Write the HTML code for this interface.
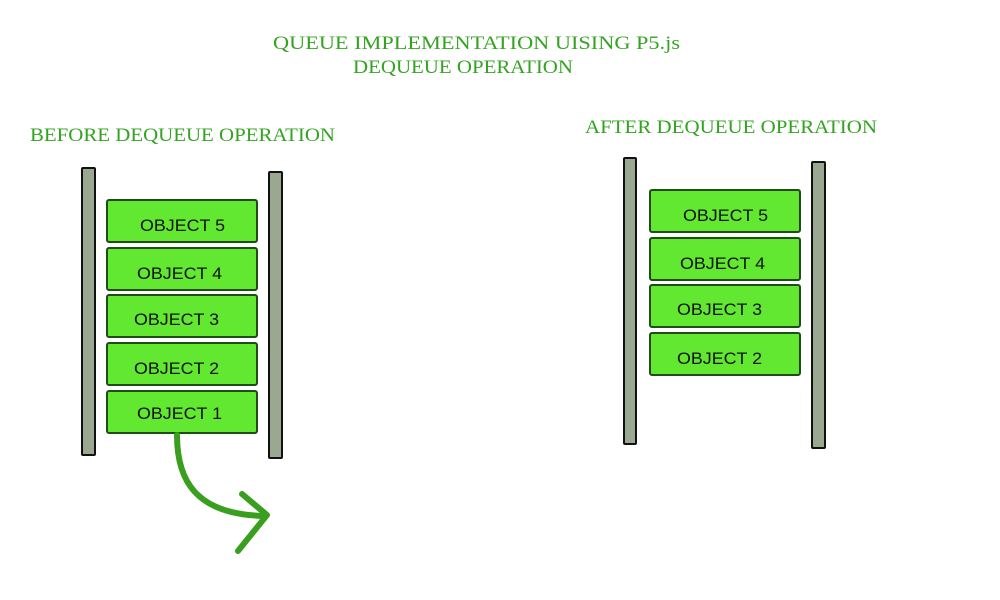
<!DOCTYPE html>
<html><head><style>
body{margin:0;background:#fff;}
svg{display:block}
</style></head><body>
<svg width="1000" height="600" xmlns="http://www.w3.org/2000/svg">
<g font-family="Liberation Serif, serif" fill="#33a321" font-size="19">
<text x="273" y="49" textLength="407" lengthAdjust="spacingAndGlyphs">QUEUE IMPLEMENTATION UISING P5.js</text>
<text x="353" y="73" textLength="220" lengthAdjust="spacingAndGlyphs">DEQUEUE OPERATION</text>
<text x="30" y="141" textLength="305" lengthAdjust="spacingAndGlyphs">BEFORE DEQUEUE OPERATION</text>
<text x="585" y="133" textLength="292" lengthAdjust="spacingAndGlyphs">AFTER DEQUEUE OPERATION</text>
</g>
<g fill="#9aa892" stroke="#111" stroke-width="2">
<rect x="82" y="168" width="13" height="287" rx="1"/>
<rect x="269" y="172" width="13" height="286" rx="1"/>
<rect x="624" y="158" width="12" height="286" rx="1"/>
<rect x="812" y="162" width="13" height="286" rx="1"/>
</g>
<g fill="#62e830" stroke="#1e4d1a" stroke-width="2">
<rect x="107" y="200" width="150" height="42" rx="2"/>
<rect x="107" y="248" width="150" height="42" rx="2"/>
<rect x="107" y="295" width="150" height="42" rx="2"/>
<rect x="107" y="343" width="150" height="42" rx="2"/>
<rect x="107" y="391" width="150" height="42" rx="2"/>
<rect x="650" y="190" width="150" height="42" rx="2"/>
<rect x="650" y="238" width="150" height="42" rx="2"/>
<rect x="650" y="285" width="150" height="42" rx="2"/>
<rect x="650" y="333" width="150" height="42" rx="2"/>
</g>
<g font-family="Liberation Sans, sans-serif" font-size="17" fill="#111">
<text x="140" y="231" textLength="85" lengthAdjust="spacingAndGlyphs">OBJECT 5</text>
<text x="137" y="279" textLength="85" lengthAdjust="spacingAndGlyphs">OBJECT 4</text>
<text x="134" y="325" textLength="85" lengthAdjust="spacingAndGlyphs">OBJECT 3</text>
<text x="134" y="374" textLength="85" lengthAdjust="spacingAndGlyphs">OBJECT 2</text>
<text x="137" y="419" textLength="85" lengthAdjust="spacingAndGlyphs">OBJECT 1</text>
<text x="683" y="221" textLength="85" lengthAdjust="spacingAndGlyphs">OBJECT 5</text>
<text x="680" y="269" textLength="85" lengthAdjust="spacingAndGlyphs">OBJECT 4</text>
<text x="677" y="315" textLength="85" lengthAdjust="spacingAndGlyphs">OBJECT 3</text>
<text x="677" y="364" textLength="85" lengthAdjust="spacingAndGlyphs">OBJECT 2</text>
</g>
<g fill="none" stroke="#3a9e1e" stroke-width="6" stroke-linecap="round" stroke-linejoin="round">
<path d="M177 435 C177 480 195 515 266 516"/>
<path d="M242 494 L267 515 L238 551"/>
</g>
</svg>
</body></html>
